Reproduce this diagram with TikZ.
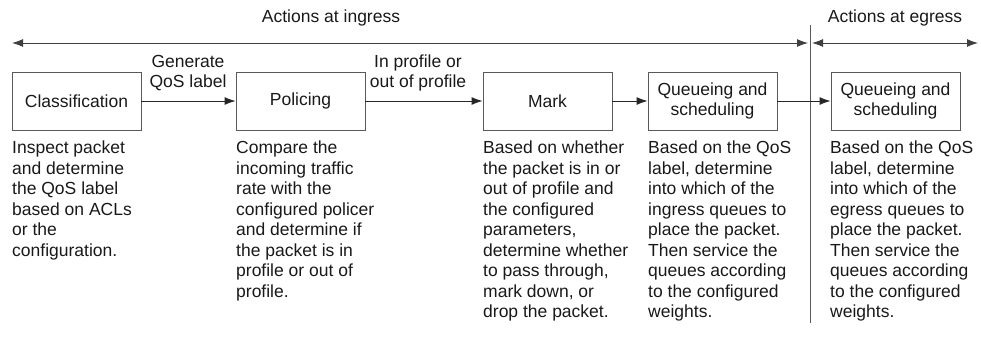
\documentclass[tikz,border=0pt]{standalone}
\usepackage{fontspec}
\setmainfont{Liberation Sans}
\usetikzlibrary{arrows.meta}

\begin{document}
\begin{tikzpicture}[
		x=1pt, y=-1pt,
		>={Latex[length=11pt,width=8pt]},
		stage/.style={draw=black!65, line width=0.9pt, minimum width=129pt, minimum height=58pt, align=center, font=\fontsize{17.5}{20.5}\selectfont, text=black!90},
		flow/.style={->, line width=0.9pt, black!85},
		span/.style={<->, line width=0.9pt, black!75},
		note/.style={anchor=north west, align=left, inner sep=0pt, font=\fontsize{17.5}{20.5}\selectfont, text=black!90},
		lbl/.style={align=center, inner sep=0pt, font=\fontsize{17.5}{20.5}\selectfont, text=black!90},
	]
	\useasboundingbox (0,0) rectangle (981,343);
	\coordinate (ingL) at (12,43);
	\coordinate (ingR) at (808,43);
	\coordinate (egL) at (812,43);
	\coordinate (egR) at (978,43);
	\coordinate (divT) at (810,25);
	\coordinate (divB) at (810,323);
	\draw[span] (ingL) -- (ingR);
	\draw[span] (egL) -- (egR);
	\draw[line width=0.9pt, black!65] (divT) -- (divB);
	\node[lbl] (ingress) at (331,18) {Actions at ingress};
	\node[lbl] (egress) at (895,18) {Actions at egress};
	\node[stage] (classify) at (76.5,101) {Classification};
	\node[stage] (police) at (300.5,101) {Policing};
	\node[stage] (mark) at (547.5,101) {Mark};
	\node[stage] (qin) at (712.5,101) {Queueing and\\scheduling};
	\node[stage] (qout) at (895.5,101) {Queueing and\\scheduling};
	\draw[flow] (classify) -- (police);
	\draw[flow] (police) -- (mark);
	\draw[flow] (mark) -- (qin);
	\draw[flow] (qin) -- (qout);
	\node[lbl] (genlbl) at (188,73) {Generate\\QoS label};
	\node[lbl] (proflbl) at (418,73) {In profile or\\out of profile};
	\node[note] (classnote) at (12,141) {Inspect packet\\and determine\\the QoS label\\based on ACLs\\or the\\configuration.};
	\node[note] (policenote) at (236,141) {Compare the\\incoming traffic\\rate with the\\configured policer\\and determine if\\the packet is in\\profile or out of\\profile.};
	\node[note] (marknote) at (483,141) {Based on whether\\the packet is in or\\out of profile and\\the configured\\parameters,\\determine whether\\to pass through,\\mark down, or\\drop the packet.};
	\node[note] (qinnote) at (648,141) {Based on the QoS\\label, determine\\into which of the\\ingress queues to\\place the packet.\\Then service the\\queues according\\to the configured\\weights.};
	\node[note] (qoutnote) at (830,141) {Based on the QoS\\label, determine\\into which of the\\egress queues to\\place the packet.\\Then service the\\queues according\\to the configured\\weights.};
\end{tikzpicture}
\end{document}
